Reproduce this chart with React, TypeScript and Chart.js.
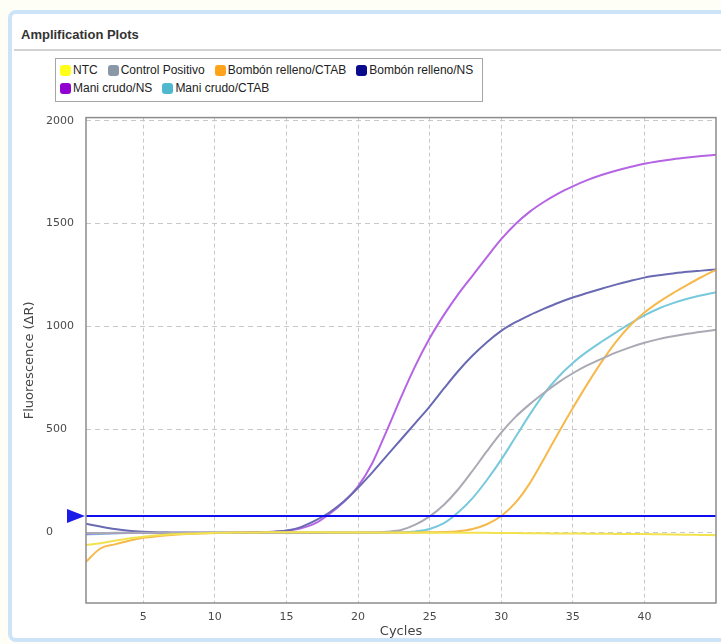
import React, { useEffect, useRef } from "react";
import { Chart, registerables } from "chart.js";

Chart.register(...registerables);

// ---------- data ----------
const cycles = [1, 2, 3, 4, 5, 6, 7, 8, 9, 10, 11, 12, 13, 14, 15, 16, 17, 18, 19, 20, 21, 22, 23, 24, 25, 26, 27, 28, 29, 30, 31, 32, 33, 34, 35, 36, 37, 38, 39, 40, 41, 42, 43, 44, 45];

const seriesNames = ["NTC", "Control Positivo", "Bombón relleno/CTAB", "Bombón relleno/NS", "Mani crudo/NS", "Mani crudo/CTAB"];

const ntc = [-63, -55, -42, -31, -23, -16, -11, -8, -6, -4, -3, -2, -2, -1, -1, -1, -1, -2, -2, -2, -2, -2, -3, -3, -3, -3, -4, -4, -4, -5, -5, -6, -6, -7, -7, -8, -8, -9, -10, -10, -11, -12, -13, -14, -15];

const controlPositivo = [-5, -5, -4, -4, -3, -3, -3, -3, -3, -3, -3, -3, -3, -3, -3, -3, -4, -4, -4, -3, -2, 2, 10, 36, 76, 133, 208, 298, 393, 483, 560, 622, 677, 728, 772, 810, 842, 872, 898, 920, 938, 952, 964, 974, 983];

const bombonCTAB = [-145, -80, -60, -42, -28, -20, -14, -10, -7, -5, -4, -3, -3, -2, -2, -2, -2, -2, -2, -2, -2, -2, -2, -2, -1, 0, 4, 15, 38, 78, 143, 238, 358, 483, 603, 718, 826, 923, 1004, 1067, 1118, 1162, 1202, 1240, 1275];

const bombonNS = [40, 27, 15, 6, 1, -2, -3, -4, -4, -4, -4, -3, -2, 0, 7, 24, 55, 95, 148, 215, 290, 370, 450, 530, 610, 698, 783, 858, 923, 978, 1020, 1055, 1086, 1115, 1140, 1162, 1183, 1203, 1221, 1237, 1248, 1257, 1265, 1271, 1277];

const maniNS = [-8, -6, -5, -4, -4, -3, -3, -3, -3, -3, -3, -2, -1, 1, 6, 18, 42, 88, 146, 222, 336, 492, 655, 808, 942, 1056, 1157, 1247, 1337, 1424, 1498, 1558, 1606, 1647, 1681, 1711, 1736, 1757, 1775, 1791, 1803, 1813, 1821, 1828, 1834];

const maniCTAB = [-12, -9, -7, -5, -4, -4, -4, -4, -4, -4, -4, -4, -4, -4, -4, -4, -4, -4, -4, -4, -4, -3, -2, 3, 15, 43, 96, 165, 253, 352, 462, 572, 673, 755, 822, 877, 925, 970, 1013, 1053, 1087, 1113, 1134, 1151, 1166];

const threshold = 78;

const xTicks = [5, 10, 15, 20, 25, 30, 35, 40];
const yTicks = [0, 500, 1000, 1500, 2000];

// ---------- styles ----------
const seriesValues = [ntc, controlPositivo, bombonCTAB, bombonNS, maniNS, maniCTAB];
const lineColors = ["#f1e24e", "#a9aab4", "#f6b94c", "#6a6ab4", "#b565e4", "#78c9db"];
const swatchColors = ["#ffff1a", "#8a97a6", "#ffa31a", "#0a0a8c", "#9000d0", "#4fb8cf"];

const framePlugin = {
  id: "frameAndMarker",
  afterDatasetsDraw(chart: any) {
    const { ctx, chartArea: a, scales } = chart;
    ctx.save();
    ctx.strokeStyle = "#8c8c8c";
    ctx.lineWidth = 1.5;
    ctx.strokeRect(a.left, a.top, a.right - a.left, a.bottom - a.top);
    const y = scales.y.getPixelForValue(threshold);
    ctx.fillStyle = "#1c1ce8";
    ctx.beginPath();
    ctx.moveTo(a.left - 19, y - 7);
    ctx.lineTo(a.left - 19, y + 7);
    ctx.lineTo(a.left - 1, y);
    ctx.closePath();
    ctx.fill();
    ctx.restore();
  },
};

function AmpChart() {
  const ref = useRef<HTMLCanvasElement | null>(null);
  useEffect(() => {
    if (!ref.current) return;
    const datasets: any[] = [
      {
        label: "Threshold",
        data: [
          { x: cycles[0], y: threshold },
          { x: cycles[cycles.length - 1], y: threshold },
        ],
        borderColor: "#0d0df0",
        borderWidth: 2.2,
        pointRadius: 0,
        tension: 0,
      },
    ];
    seriesNames.forEach((name, i) => {
      datasets.push({
        label: name,
        data: cycles.map((c, k) => ({ x: c, y: seriesValues[i][k] })),
        borderColor: lineColors[i],
        borderWidth: 2,
        pointRadius: 0,
        cubicInterpolationMode: "monotone",
      });
    });
    const tickFont = { family: "'DejaVu Sans', sans-serif", size: 11 };
    const titleFont = { family: "'DejaVu Sans', sans-serif", size: 13 };
    const chart = new Chart(ref.current, {
      type: "line",
      data: { datasets },
      options: {
        animation: false,
        responsive: false,
        events: [],
        layout: { padding: { left: 46, right: 5, top: 14, bottom: 0 } },
        plugins: { legend: { display: false }, tooltip: { enabled: false } },
        scales: {
          x: {
            type: "linear",
            min: 1,
            max: 45,
            afterBuildTicks: (axis: any) => {
              axis.ticks = xTicks.map((v) => ({ value: v }));
            },
            afterFit: (axis: any) => {
              axis.height = 41;
            },
            border: { display: false, dash: [4, 3] },
            grid: { color: "#c9c9c9", lineWidth: 1, drawTicks: false },
            ticks: { color: "#4a4a4a", padding: 8, font: tickFont, callback: (v: any) => String(v) },
            title: { display: true, text: "Cycles", color: "#444", font: titleFont, padding: { top: 0, bottom: 5 } },
          } as any,
          y: {
            type: "linear",
            min: -345,
            max: 2015,
            afterBuildTicks: (axis: any) => {
              axis.ticks = yTicks.map((v) => ({ value: v }));
            },
            afterFit: (axis: any) => {
              axis.width = 40;
            },
            border: { display: false, dash: [5, 4] },
            grid: { color: "#c9c9c9", lineWidth: 1, drawTicks: false },
            ticks: { color: "#4a4a4a", crossAlign: "far", padding: 11, font: tickFont, callback: (v: any) => String(v) },
            title: { display: true, text: "Fluorescence (ΔR)", color: "#444", font: titleFont, padding: { top: -24, bottom: 0 } },
          } as any,
        },
      },
      plugins: [framePlugin],
    });
    return () => chart.destroy();
  }, []);
  return <canvas ref={ref} width={721} height={544} style={{ position: "absolute", left: 0, top: 100, width: 721, height: 544 }} />;
}

export default function App() {
  return (
    <div style={{ position: "fixed", left: 0, top: 0, width: 721, height: 644, overflow: "hidden", background: "#fefdf6" }}>
      <div
        style={{
          position: "absolute",
          left: 8,
          top: 10,
          width: 760,
          height: 632,
          boxSizing: "border-box",
          border: "4px solid #cde4f8",
          borderRadius: 8,
          background: "#ffffff",
        }}
      />
      <div
        style={{
          position: "absolute",
          left: 21,
          top: 27,
          lineHeight: "16px",
          fontFamily: "'Liberation Sans', Arial, sans-serif",
          fontWeight: 700,
          fontSize: 13,
          color: "#333",
        }}
      >
        Amplification Plots
      </div>
      <div style={{ position: "absolute", left: 14, top: 49, width: 720, height: 2, background: "#d2d2d2" }} />
      <div
        style={{
          position: "absolute",
          left: 55,
          top: 58,
          width: 428,
          height: 44,
          boxSizing: "border-box",
          border: "1.5px solid #a6a6a6",
          padding: "2px 0 0 4px",
          display: "flex",
          flexWrap: "wrap",
          alignContent: "flex-start",
          columnGap: 10,
          fontFamily: "'Liberation Sans', Arial, sans-serif",
          fontSize: 12,
          color: "#222",
        }}
      >
        {seriesNames.map((n, i) => (
          <div key={n} style={{ display: "flex", alignItems: "center", height: 18, whiteSpace: "nowrap" }}>
            <span
              style={{
                display: "inline-block",
                width: 11,
                height: 11,
                borderRadius: 3,
                background: swatchColors[i],
                marginRight: 2,
              }}
            />
            <span>{n}</span>
          </div>
        ))}
      </div>
      <AmpChart />
    </div>
  );
}
